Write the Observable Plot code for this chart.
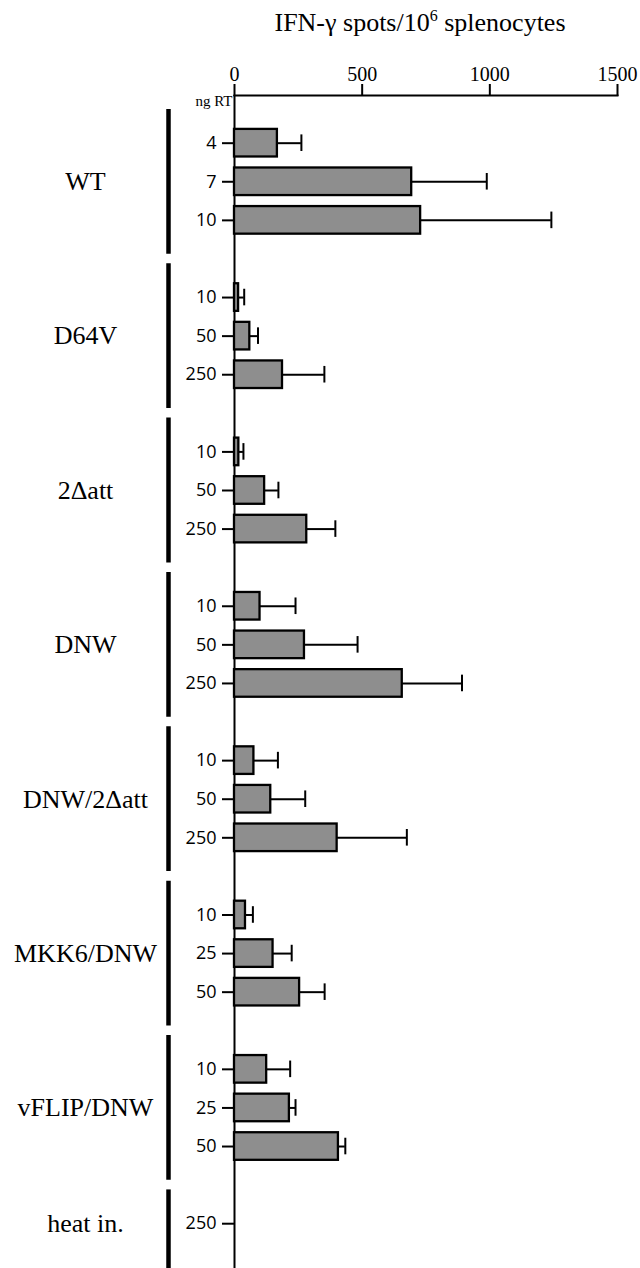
<!DOCTYPE html>
<html><head><meta charset="utf-8">
<script src="https://cdn.jsdelivr.net/npm/d3@7"></script>
<script src="https://cdn.jsdelivr.net/npm/@observablehq/plot@0.6"></script>
<style>
html,body{margin:0;padding:0;background:#fff;}
#wrap{width:640px;position:relative;}
#title{height:48px;position:relative;font-family:"Liberation Serif",serif;font-size:26px;color:#000;}
#title span{position:absolute;left:420px;top:10px;line-height:1;transform:translateX(-50%);white-space:nowrap;}
#title sup{font-size:16px;vertical-align:10px;line-height:0;}
svg{display:block;}
</style></head>
<body>
<div id="wrap">
<div id="title"><span>IFN-γ spots/10<sup>6</sup> splenocytes</span></div>
<div id="chart"></div>
</div>
<script>
const groups = ["WT", "D64V", "2Δatt", "DNW", "DNW/2Δatt", "MKK6/DNW", "vFLIP/DNW", "heat in."];
const doses = [[4, 7, 10], [10, 50, 250], [10, 50, 250], [10, 50, 250], [10, 50, 250], [10, 25, 50], [10, 25, 50], [250]];
const means = [[168, 694, 729], [16, 60, 188], [17, 118, 283], [100, 274, 657], [76, 142, 402], [43, 151, 255], [126, 215, 407], [0]];
const uppers = [[262, 988, 1241], [38, 92, 352], [35, 172, 395], [239, 482, 891], [170, 277, 675], [72, 224, 353], [218, 239, 434], [0]];
const xTicks = [0, 500, 1000, 1500];

const rows = [];
const domain = ["gap0"];
const brackets = [];
groups.forEach((g, gi) => {
  if (gi > 0) domain.push(`gap${gi}`);
  const keys = doses[gi].map((d, di) => {
    const key = `${g}|${d}`;
    domain.push(key);
    rows.push({group: g, dose: d, key, mean: means[gi][di], upper: uppers[gi][di]});
    return key;
  });
  brackets.push({group: g, first: keys[0], last: gi === groups.length - 1 ? "gapEnd" : keys[keys.length - 1], mid: keys[Math.floor((keys.length - 1) / 2)]});
});
domain.push("gapEnd");
const drawn = rows.filter(r => r.mean > 0);

const chart = Plot.plot({
  width: 640,
  height: 1220,
  marginTop: 47,
  marginLeft: 234,
  marginRight: 23,
  marginBottom: 0,
  style: {fontFamily: "Liberation Serif, serif", fontSize: "20px", color: "black", background: "white"},
  x: {domain: [0, 1500]},
  y: {type: "band", domain, range: [36.8, 36.8 + 31 * 38.59], padding: 0, round: false},
  marks: [
    Plot.frame({anchor: "top", strokeWidth: 2}),
    Plot.ruleX([0], {strokeWidth: 2}),
    Plot.axisX({anchor: "top", ticks: xTicks, tickFormat: d => String(d), tickSize: 12, tickPadding: 3, fontSize: 20, strokeWidth: 2, label: null}),
    Plot.axisY({anchor: "left", ticks: rows.map(r => r.key), tickFormat: k => k.split("|")[1], tickSize: 12, tickPadding: 6, fontFamily: "Open Sans", fontSize: 18, strokeWidth: 2, label: null}),
    Plot.ruleY(drawn, {y: "key", x1: "mean", x2: "upper", strokeWidth: 2}),
    Plot.barX(drawn, {y: "key", x: "mean", fill: "#8e8e8e", stroke: "black", strokeWidth: 2.3, insetTop: 5.5, insetBottom: 5.5}),
    Plot.tickX(drawn, {y: "key", x: "upper", strokeWidth: 2, insetTop: 11, insetBottom: 11}),
    Plot.ruleX(brackets, {x: () => 0, y1: "first", y2: "last", dx: -66, strokeWidth: 4.5, insetTop: -14.5, insetBottom: -14.5}),
    Plot.text(brackets, {x: () => 0, y: "mid", text: "group", dx: -149, textAnchor: "middle", fontSize: 26}),
    Plot.text(["ng RT"], {frameAnchor: "top-left", text: d => d, textAnchor: "end", lineAnchor: "top", dx: -2, fontSize: 15})
  ]
});
document.getElementById("chart").appendChild(chart);
</script>
</body></html>
